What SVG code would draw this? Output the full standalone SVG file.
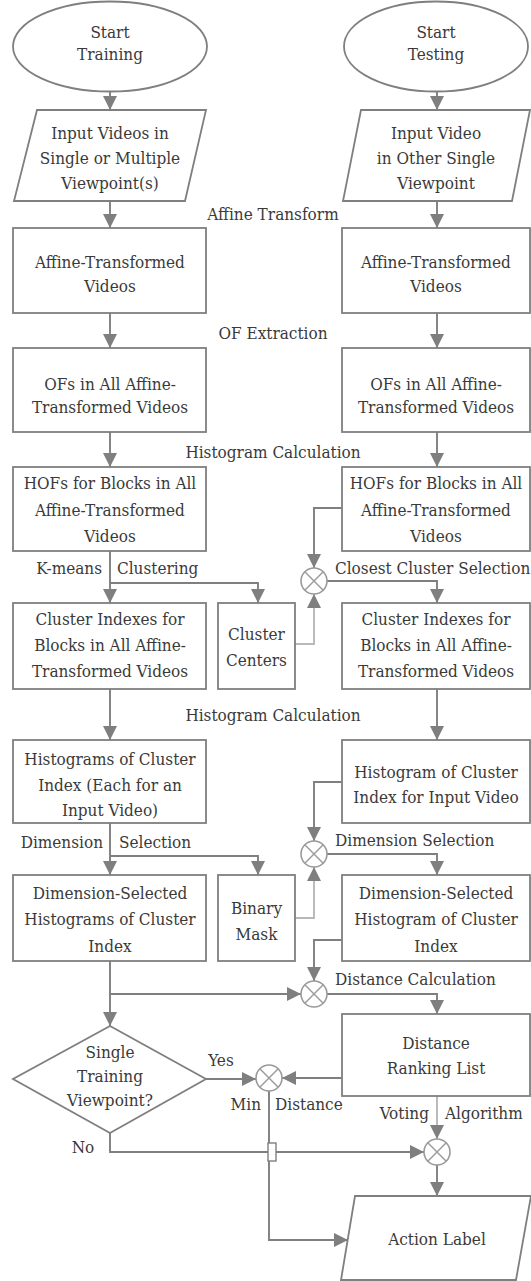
<svg xmlns="http://www.w3.org/2000/svg" width="531" height="1281" viewBox="0 0 531 1281">
<defs>
<style>
.t{font-family:"DejaVu Serif Condensed","DejaVu Serif",serif;font-size:17px;fill:#3a3a3a;text-anchor:middle}
.s{text-anchor:start}.e{text-anchor:end}
.n{fill:#fff;stroke:#7f7f7f;stroke-width:1.8}
.c{fill:none;stroke:#7f7f7f;stroke-width:1.9}
.l{stroke:#b8b8b8}
.op{fill:#fff;stroke:#9a9a9a;stroke-width:1.6}
.x{stroke:#9a9a9a;stroke-width:1.4}
</style>
<marker id="a" viewBox="0 0 14 14" refX="14" refY="7" markerWidth="14" markerHeight="14" markerUnits="userSpaceOnUse" orient="auto"><path d="M0,0L14,7L0,14Z" fill="#7f7f7f"/></marker>
</defs>
<rect width="531" height="1281" fill="#fff"/>

<g id="connectors">
<path class="c" d="M110,92V110" marker-end="url(#a)"/>
<path class="c" d="M110,201V228" marker-end="url(#a)"/>
<path class="c" d="M110,313V348" marker-end="url(#a)"/>
<path class="c" d="M110,432V467" marker-end="url(#a)"/>
<path class="c" d="M110,551V603" marker-end="url(#a)"/>
<path class="c" d="M110,583H258V603" marker-end="url(#a)"/>
<path class="c" d="M110,689V740" marker-end="url(#a)"/>
<path class="c" d="M110,823V875" marker-end="url(#a)"/>
<path class="c" d="M110,856H258V875" marker-end="url(#a)"/>
<path class="c" d="M110,961V1026" marker-end="url(#a)"/>
<path class="c" d="M110,994H301" marker-end="url(#a)"/>
<path class="c" d="M206,1079H256" marker-end="url(#a)"/>
<path class="c" d="M110,1133V1152H424" marker-end="url(#a)"/>
<path class="c" d="M269,1091V1240H348" marker-end="url(#a)"/>
<rect x="268" y="1143" width="8" height="18" fill="#fff" stroke="#7f7f7f" stroke-width="1.4"/>
<path class="c" d="M437,92V110" marker-end="url(#a)"/>
<path class="c" d="M437,201V228" marker-end="url(#a)"/>
<path class="c" d="M437,313V348" marker-end="url(#a)"/>
<path class="c" d="M437,432V467" marker-end="url(#a)"/>
<path class="c" d="M342,508H314V568" marker-end="url(#a)"/>
<path class="c" d="M327,581H437V603" marker-end="url(#a)"/>
<path class="c l" d="M295,644H314V594" marker-end="url(#a)"/>
<path class="c" d="M437,689V740" marker-end="url(#a)"/>
<path class="c" d="M342,782H314V841" marker-end="url(#a)"/>
<path class="c" d="M327,854H437V875" marker-end="url(#a)"/>
<path class="c l" d="M295,918H314V867" marker-end="url(#a)"/>
<path class="c" d="M342,940H314V981" marker-end="url(#a)"/>
<path class="c" d="M327,994H437V1014" marker-end="url(#a)"/>
<path class="c" d="M342,1078H282" marker-end="url(#a)"/>
<path class="c l" d="M437,1096V1139" marker-end="url(#a)"/>
<path class="c" d="M437,1165V1196" marker-end="url(#a)"/>
</g>

<g id="op1"><circle class="op" cx="314" cy="581" r="13"/><path class="x" d="M304.8,571.8L323.2,590.2M323.2,571.8L304.8,590.2"/></g>
<g id="op2"><circle class="op" cx="314" cy="854" r="13"/><path class="x" d="M304.8,844.8L323.2,863.2M323.2,844.8L304.8,863.2"/></g>
<g id="op3"><circle class="op" cx="314" cy="994" r="13"/><path class="x" d="M304.8,984.8L323.2,1003.2M323.2,984.8L304.8,1003.2"/></g>
<g id="op4"><circle class="op" cx="269" cy="1078" r="13"/><path class="x" d="M259.8,1068.8L278.2,1087.2M278.2,1068.8L259.8,1087.2"/></g>
<g id="op5"><circle class="op" cx="437" cy="1152" r="13"/><path class="x" d="M427.8,1142.8L446.2,1161.2M446.2,1142.8L427.8,1161.2"/></g>

<g id="labels">
<text class="t" x="273" y="220">Affine Transform</text>
<text class="t" x="273" y="339">OF Extraction</text>
<text class="t" x="273" y="458">Histogram Calculation</text>
<text class="t e" x="102" y="574">K-means</text>
<text class="t s" x="117" y="574">Clustering</text>
<text class="t s" x="335" y="574">Closest Cluster Selection</text>
<text class="t" x="273" y="721">Histogram Calculation</text>
<text class="t e" x="103" y="848">Dimension</text>
<text class="t s" x="119" y="848">Selection</text>
<text class="t s" x="335" y="846">Dimension Selection</text>
<text class="t s" x="335" y="985">Distance Calculation</text>
<text class="t" x="221" y="1066">Yes</text>
<text class="t e" x="261" y="1110">Min</text>
<text class="t s" x="275" y="1110">Distance</text>
<text class="t e" x="429" y="1119">Voting</text>
<text class="t s" x="445" y="1119">Algorithm</text>
<text class="t" x="83" y="1153">No</text>
</g>

<g id="start-training"><ellipse class="n" cx="110" cy="46.5" rx="97" ry="45"/><text class="t" x="110" y="38">Start</text><text class="t" x="110" y="60">Training</text></g>
<g id="start-testing"><ellipse class="n" cx="436" cy="46.5" rx="92" ry="45"/><text class="t" x="436" y="38">Start</text><text class="t" x="436" y="60">Testing</text></g>

<g id="input-train"><path class="n" d="M37,110H206L185,201H14Z"/><text class="t" x="110" y="139">Input Videos in</text><text class="t" x="110" y="164">Single or Multiple</text><text class="t" x="110" y="189">Viewpoint(s)</text></g>
<g id="input-test"><path class="n" d="M361,110H530L512,201H343Z"/><text class="t" x="436" y="139">Input Video</text><text class="t" x="436" y="164">in Other Single</text><text class="t" x="436" y="189">Viewpoint</text></g>

<g id="affine-train"><rect class="n" x="13" y="228" width="193" height="85"/><text class="t" x="110" y="268">Affine-Transformed</text><text class="t" x="110" y="292">Videos</text></g>
<g id="affine-test"><rect class="n" x="342" y="228" width="188" height="85"/><text class="t" x="436" y="268">Affine-Transformed</text><text class="t" x="436" y="292">Videos</text></g>

<g id="of-train"><rect class="n" x="13" y="348" width="193" height="84"/><text class="t" x="110" y="390">OFs in All Affine-</text><text class="t" x="110" y="413">Transformed Videos</text></g>
<g id="of-test"><rect class="n" x="342" y="348" width="188" height="84"/><text class="t" x="436" y="390">OFs in All Affine-</text><text class="t" x="436" y="413">Transformed Videos</text></g>

<g id="hof-train"><rect class="n" x="13" y="467" width="193" height="84"/><text class="t" x="110" y="489">HOFs for Blocks in All</text><text class="t" x="110" y="515.5">Affine-Transformed</text><text class="t" x="110" y="542">Videos</text></g>
<g id="hof-test"><rect class="n" x="342" y="467" width="188" height="84"/><text class="t" x="436" y="489">HOFs for Blocks in All</text><text class="t" x="436" y="515.5">Affine-Transformed</text><text class="t" x="436" y="542">Videos</text></g>

<g id="ci-train"><rect class="n" x="13" y="603" width="193" height="86"/><text class="t" x="110" y="625">Cluster Indexes for</text><text class="t" x="110" y="651">Blocks in All Affine-</text><text class="t" x="110" y="677">Transformed Videos</text></g>
<g id="cluster-centers"><rect class="n" x="218" y="603" width="77" height="86"/><text class="t" x="256.5" y="640">Cluster</text><text class="t" x="256.5" y="666">Centers</text></g>
<g id="ci-test"><rect class="n" x="342" y="603" width="188" height="86"/><text class="t" x="436" y="625">Cluster Indexes for</text><text class="t" x="436" y="651">Blocks in All Affine-</text><text class="t" x="436" y="677">Transformed Videos</text></g>

<g id="hist-train"><rect class="n" x="13" y="740" width="193" height="83"/><text class="t" x="110" y="765">Histograms of Cluster</text><text class="t" x="110" y="790.5">Index (Each for an</text><text class="t" x="110" y="816">Input Video)</text></g>
<g id="hist-test"><rect class="n" x="342" y="740" width="188" height="83"/><text class="t" x="436" y="778">Histogram of Cluster</text><text class="t" x="436" y="803">Index for Input Video</text></g>

<g id="ds-train"><rect class="n" x="13" y="875" width="193" height="86"/><text class="t" x="110" y="899">Dimension-Selected</text><text class="t" x="110" y="925">Histograms of Cluster</text><text class="t" x="110" y="952">Index</text></g>
<g id="binary-mask"><rect class="n" x="218" y="875" width="77" height="86"/><text class="t" x="256.5" y="914">Binary</text><text class="t" x="256.5" y="940">Mask</text></g>
<g id="ds-test"><rect class="n" x="342" y="875" width="188" height="86"/><text class="t" x="436" y="899">Dimension-Selected</text><text class="t" x="436" y="925">Histogram of Cluster</text><text class="t" x="436" y="952">Index</text></g>

<g id="decision"><path class="n" d="M110,1026L206,1079L110,1133L13,1079Z"/><text class="t" x="110" y="1058">Single</text><text class="t" x="110" y="1082">Training</text><text class="t" x="110" y="1105.5">Viewpoint?</text></g>
<g id="ranking"><rect class="n" x="342" y="1014" width="188" height="82"/><text class="t" x="436" y="1049">Distance</text><text class="t" x="436" y="1074">Ranking List</text></g>
<g id="action-label"><path class="n" d="M355,1196H531L516,1280H341Z"/><text class="t" x="437" y="1245">Action Label</text></g>
</svg>
